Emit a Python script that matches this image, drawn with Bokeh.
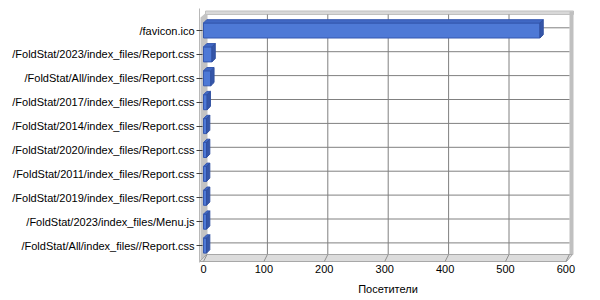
from bokeh.plotting import figure
from bokeh.models import Range1d, FixedTicker
from bokeh.embed import file_html
from bokeh.resources import INLINE

pages = ["/favicon.ico",
         "/FoldStat/2023/index_files/Report.css",
         "/FoldStat/All/index_files/Report.css",
         "/FoldStat/2017/index_files/Report.css",
         "/FoldStat/2014/index_files/Report.css",
         "/FoldStat/2020/index_files/Report.css",
         "/FoldStat/2011/index_files/Report.css",
         "/FoldStat/2019/index_files/Report.css",
         "/FoldStat/2023/index_files/Menu.js",
         "/FoldStat/All/index_files//Report.css"]
visitors = [557, 14, 12, 6, 5, 5, 5, 5, 5, 5]
x_ticks = [0, 100, 200, 300, 400, 500, 600]
x_title = "Посетители"

# ---- layout (pixels) ----
W, H = 600, 300
FL, FR, FT, FB = 199, 576, 8, 262          # frame edges
X0PX = 203                                  # pixel of value 0 on front plane
KX = (565.4 - 203) / 600.0                  # px per unit
C0PX, KY = 30.0, 23.9                       # first category centre px, px per category

XS = (FL - X0PX) / KX
XE = (FR - X0PX) / KX
YT = (FT - C0PX) / KY
YB = (FB - C0PX) / KY

def X(px):
    return (px - X0PX) / KX

def Y(py):
    return (py - C0PX) / KY

FONT = "Liberation Sans"

p = figure(width=W, height=H, output_backend="svg", toolbar_location=None,
           x_range=Range1d(XS, XE), y_range=Range1d(YB, YT),
           min_border_left=FL, min_border_right=W - FR,
           min_border_top=FT, min_border_bottom=H - FB)
p.outline_line_color = None
p.background_fill_color = "white"
p.border_fill_color = "white"
p.xgrid.visible = False
p.ygrid.visible = False

# ---- 3D box: walls ----
WDX, WDY = 3.5, -6.5   # back wall offset in px
# left wall
p.patch([X(200), X(207), X(207), X(200)], [Y(17), Y(11), Y(254), Y(260)],
        fill_color="#c4c4c4", line_color=None)
# top rim
p.patch([X(205), X(573), X(573), X(205)], [Y(10.5), Y(10.5), Y(14), Y(14)],
        fill_color="#d8d8d8", line_color="#c0c0c0", line_width=1)
# right wall
p.patch([X(569), X(573), X(573), X(569)], [Y(11), Y(11), Y(254), Y(254)],
        fill_color="#c0c0c0", line_color=None)

# back wall grid lines
gx = [v for v in x_ticks if v > 0 and v < 600]
p.segment(x0=[v + X(X0PX + WDX) for v in gx], x1=[v + X(X0PX + WDX) for v in gx],
          y0=[Y(14)] * len(gx), y1=[Y(254)] * len(gx),
          line_color="#808080", line_width=1)
cats = list(range(len(pages)))
p.segment(x0=[X(207)] * len(cats), x1=[X(569)] * len(cats),
          y0=[i + Y(C0PX - 2.7) for i in cats], y1=[i + Y(C0PX - 2.7) for i in cats],
          line_color="#808080", line_width=1)

# floor
p.patch([X(199), X(566), X(572), X(206)], [Y(261), Y(261), Y(254), Y(254)],
        fill_color="#dcdcdc", line_color="#a8a8a8", line_width=1)
p.segment(x0=[v for v in x_ticks], x1=[v + X(X0PX + WDX) for v in x_ticks],
          y0=[Y(261)] * len(x_ticks), y1=[Y(254)] * len(x_ticks),
          line_color="#909090", line_width=1)

# ---- bars ----
h = 7.5 / KY
bdx = 3.3 / KX
bdy = -3.3 / KY
p.quad(left=[0] * len(visitors), right=visitors,
       top=[i - h for i in cats], bottom=[i + h for i in cats],
       fill_color="#4e79d6", line_color="#3558b0", line_width=1)
top_xs = [[0, v, v + bdx, bdx] for v in visitors]
top_ys = [[i - h, i - h, i - h + bdy, i - h + bdy] for i in cats]
p.patches(top_xs, top_ys, fill_color="#4068c4", line_color="#3558b0", line_width=1)
side_xs = [[v, v + bdx, v + bdx, v] for v in visitors]
side_ys = [[i - h, i - h + bdy, i + h + bdy, i + h] for i in cats]
p.patches(side_xs, side_ys, fill_color="#3656a8", line_color="#3050a0", line_width=1)

# ---- axes ----
ya = p.yaxis[0]
ya.ticker = FixedTicker(ticks=cats)
ya.major_label_overrides = {i: s for i, s in zip(cats, pages)}
ya.axis_line_color = "#b8b8b8"
ya.major_tick_line_color = "#404040"
ya.major_tick_out = 3
ya.major_tick_in = 3
ya.minor_tick_line_color = None
ya.major_label_standoff = 2
ya.major_label_text_font = FONT
ya.major_label_text_font_size = "11px"
ya.major_label_text_color = "black"

xa = p.xaxis[0]
xa.ticker = FixedTicker(ticks=x_ticks)
xa.axis_line_color = None
xa.major_tick_line_color = None
xa.minor_tick_line_color = None
xa.major_tick_out = 0
xa.major_tick_in = 0
xa.major_label_standoff = 2
xa.major_label_text_font = FONT
xa.major_label_text_font_size = "11px"
xa.major_label_text_color = "black"
xa.axis_label = x_title
xa.axis_label_text_font = FONT
xa.axis_label_text_font_size = "11px"
xa.axis_label_text_font_style = "normal"
xa.axis_label_text_color = "black"
xa.axis_label_standoff = 7

open("out.html", "w").write(file_html(p, INLINE))
